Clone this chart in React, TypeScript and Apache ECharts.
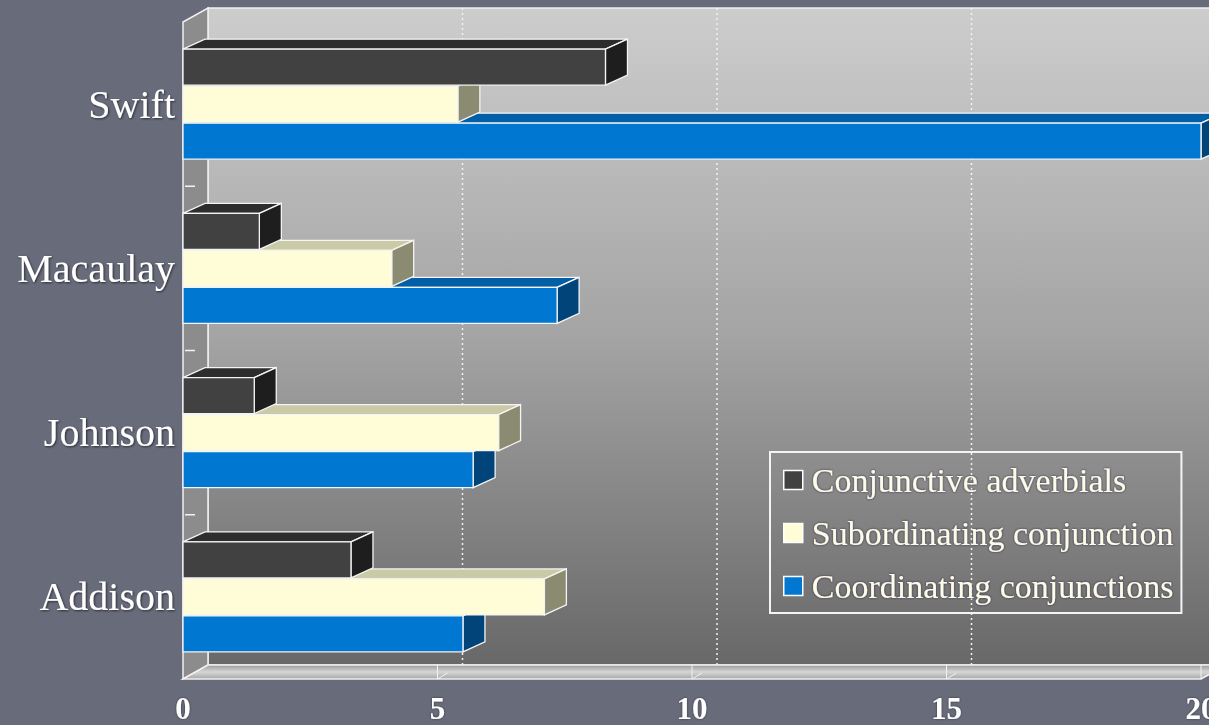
import React, { useEffect, useRef } from "react";
import * as echarts from "echarts";

const categories = ["Addison", "Johnson", "Macaulay", "Swift"];
const conjunctiveAdverbials = [3.3, 1.4, 1.5, 8.3];
const subordinatingConjunction = [7.1, 6.2, 4.1, 5.4];
const coordinatingConjunctions = [5.5, 5.7, 7.35, 20];
const xTicks = [0, 5, 10, 15, 20];
const seriesNames = [
  "Conjunctive adverbials",
  "Subordinating conjunction",
  "Coordinating conjunctions",
];

const WX = 25; // wall depth
const WY = 14;
const BX = 22; // bar depth
const BY = 10;
const BAR_H = 36;

const faces = [
  { front: "#414141", top: "#2d2d2d", side: "#1e1e1e" },
  { front: "#fffcd8", top: "#cacaa6", side: "#8b8b72" },
  { front: "#0077d1", top: "#005fa6", side: "#004479" },
];

function barSeries(k: number, values: number[], z: number) {
  return {
    name: seriesNames[k],
    type: "custom",
    z,
    clip: false,
    itemStyle: { color: faces[k].front },
    encode: { x: 1, y: 0 },
    data: values.map((v, i) => [i, v]),
    renderItem: (params: any, api: any) => {
      const cat = api.value(0);
      const val = api.value(1);
      const s = api.coord([0, cat]);
      const e = api.coord([val, cat]);
      const xs = s[0];
      const yc = s[1];
      const xe = e[0];
      const offset = (k - 1) * (BAR_H + 1);
      const yT = yc + offset - BAR_H / 2;
      const yB = yT + BAR_H;
      const st = { stroke: "#f4f4f4", lineWidth: 1.3 };
      return {
        type: "group",
        children: [
          {
            type: "polygon",
            shape: { points: [[xs, yT], [xe, yT], [xe + BX, yT - BY], [xs + BX, yT - BY]] },
            style: { fill: faces[k].top, ...st },
          },
          {
            type: "polygon",
            shape: { points: [[xe, yT], [xe + BX, yT - BY], [xe + BX, yB - BY], [xe, yB]] },
            style: { fill: faces[k].side, ...st },
          },
          {
            type: "rect",
            shape: { x: xs, y: yT, width: xe - xs, height: BAR_H },
            style: { fill: faces[k].front, ...st },
          },
        ],
      };
    },
  };
}

export default function App() {
  const ref = useRef<HTMLDivElement>(null);
  useEffect(() => {
    document.body.style.margin = "0";
    const chart = echarts.init(ref.current!, null, { renderer: "svg" });
    const wallSeries = {
      name: "walls",
      type: "custom",
      z: 1,
      clip: false,
      silent: true,
      encode: { x: 1, y: 0 },
      data: [[0, 0]],
      renderItem: (params: any, api: any) => {
        const cs = params.coordSys;
        const L = cs.x, T = cs.y, R = cs.x + cs.width, B = cs.y + cs.height;
        const children: any[] = [];
        children.push({
          type: "rect",
          shape: { x: L + WX, y: T - WY, width: R - L, height: B - T },
          style: {
            fill: new echarts.graphic.LinearGradient(0, 0, 0, 1, [
              { offset: 0, color: "#cdcdcd" },
              { offset: 0.5, color: "#a4a4a4" },
              { offset: 1, color: "#686868" },
            ]),
            stroke: "#f0f0f0",
            lineWidth: 1.5,
          },
        });
        children.push({
          type: "polygon",
          shape: { points: [[L, T], [L + WX, T - WY], [L + WX, B - WY], [L, B]] },
          style: { fill: "#8c8c8c", stroke: "#f0f0f0", lineWidth: 1.5 },
        });
        children.push({
          type: "polygon",
          shape: { points: [[L, B], [L + WX, B - WY], [R + WX, B - WY], [R, B]] },
          style: {
            fill: new echarts.graphic.LinearGradient(0, 0, 0, 1, [
              { offset: 0, color: "#9a9a9a" },
              { offset: 0.5, color: "#d6d6d6" },
              { offset: 1, color: "#a6a6a6" },
            ]),
            stroke: "#f0f0f0",
            lineWidth: 1.5,
          },
        });
        xTicks.forEach((v) => {
          const x = api.coord([v, 0])[0];
          if (v > 0) {
            children.push({
              type: "line",
              shape: { x1: x + WX, y1: T - WY, x2: x + WX, y2: B - WY },
              style: { stroke: "#f2f2f2", lineWidth: 1.5, lineDash: [2, 3] },
            });
            children.push({
              type: "line",
              shape: { x1: x, y1: B, x2: x, y2: B - WY },
              style: { stroke: "#f2f2f2", lineWidth: 1 },
            });
            children.push({
              type: "line",
              shape: { x1: x, y1: B, x2: x + 10, y2: B - 6 },
              style: { stroke: "#f2f2f2", lineWidth: 1 },
            });
          }
        });
        for (let i = 1; i < categories.length; i++) {
          const y = (api.coord([0, i - 1])[1] + api.coord([0, i])[1]) / 2;
          children.push({
            type: "line",
            shape: { x1: L + 2, y1: y, x2: L + 12, y2: y },
            style: { stroke: "#f2f2f2", lineWidth: 1.5 },
          });
        }
        return { type: "group", children };
      },
    };
    chart.setOption({
      animation: false,
      backgroundColor: "#686b7a",
      grid: {
        left: 183,
        right: 8,
        top: 22,
        bottom: 46,
        containLabel: false,
        outerBoundsMode: "none",
      },
      xAxis: {
        type: "value",
        min: 0,
        max: 20,
        interval: 5,
        axisLine: { show: false },
        axisTick: { show: false },
        splitLine: { show: false },
        axisLabel: {
          color: "#ffffff",
          fontFamily: "Liberation Serif",
          fontWeight: "bold",
          fontSize: 31,
          margin: 14,
          hideOverlap: false,
          textShadowColor: "rgba(0,0,0,0.5)",
          textShadowBlur: 2,
        },
      },
      yAxis: {
        type: "category",
        data: categories,
        axisLine: { show: false },
        axisTick: { show: false },
        splitLine: { show: false },
        axisLabel: {
          color: "#ffffff",
          fontFamily: "Liberation Serif",
          fontSize: 40,
          margin: 8,
          textShadowColor: "rgba(0,0,0,0.6)",
          textShadowBlur: 2,
          textShadowOffsetX: 1,
          textShadowOffsetY: 1,
        },
      },
      legend: {
        data: seriesNames,
        orient: "vertical",
        left: 770,
        top: 452,
        icon: "rect",
        itemWidth: 19,
        itemHeight: 19,
        itemGap: 17,
        padding: [10, 8, 9, 13],
        borderColor: "#f4f4f4",
        borderWidth: 2,
        itemStyle: { borderColor: "#ffffff", borderWidth: 1.5 },
        textStyle: {
          color: "#fffbea",
          fontFamily: "Liberation Serif",
          fontSize: 34,
          lineHeight: 36,
          padding: [0, 0, 0, 4],
          textShadowColor: "rgba(20,30,60,0.8)",
          textShadowBlur: 2,
        },
      },
      series: [
        wallSeries,
        barSeries(0, conjunctiveAdverbials, 5),
        barSeries(1, subordinatingConjunction, 4),
        barSeries(2, coordinatingConjunctions, 3),
      ],
    });
    return () => chart.dispose();
  }, []);
  return <div ref={ref} style={{ width: 1209, height: 725 }} />;
}
